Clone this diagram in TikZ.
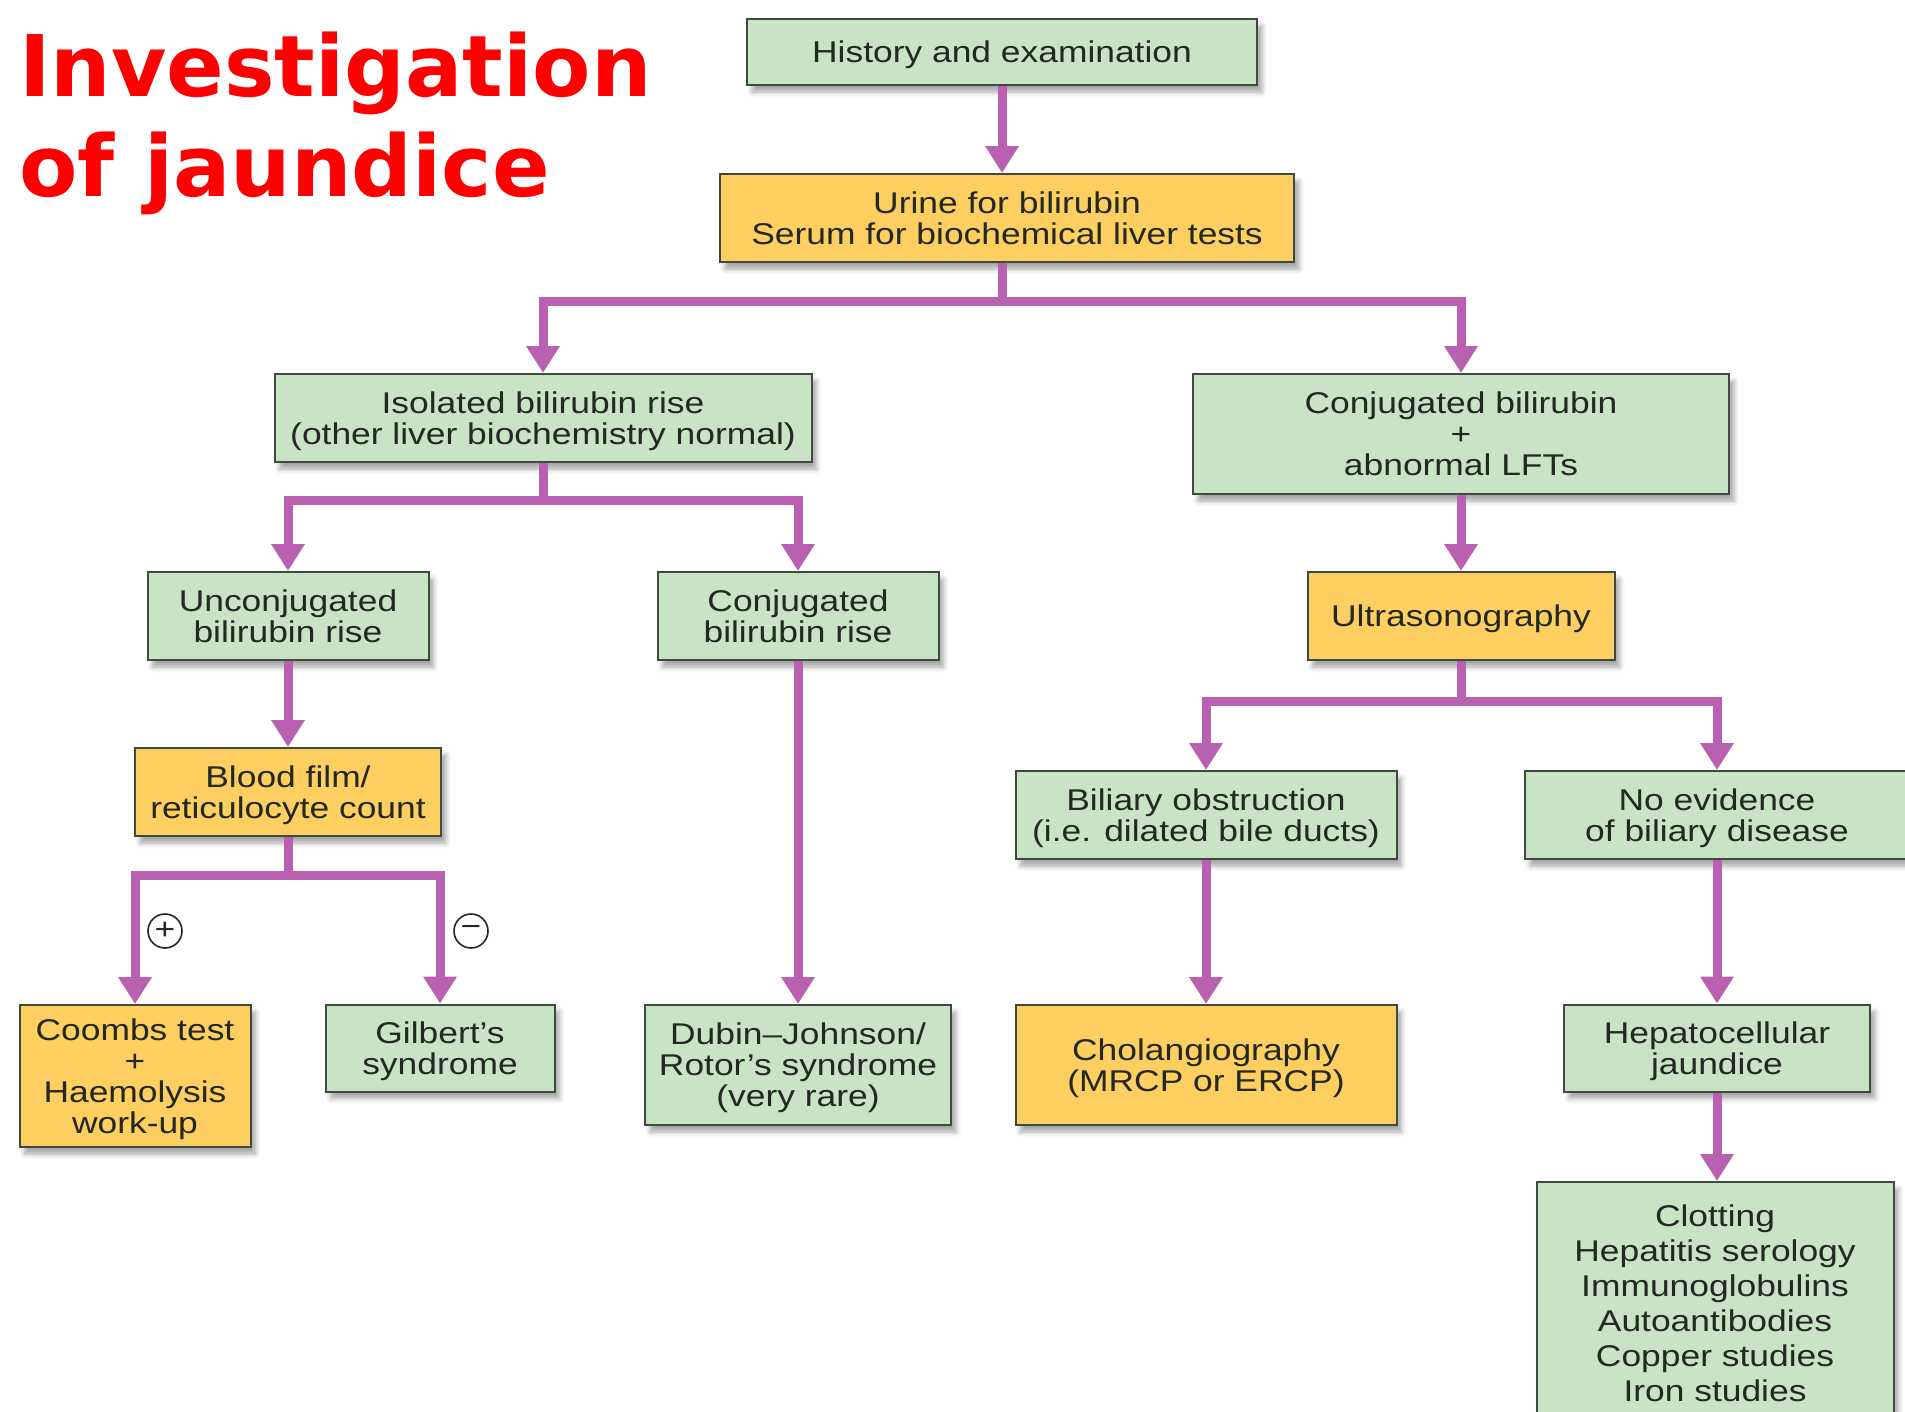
\documentclass[tikz,border=0pt]{standalone}
\usepackage{fontspec}
\setmainfont{Liberation Sans}[FakeStretch=1.18]
\newfontfamily\titlefont{DejaVu Sans}
\usetikzlibrary{arrows.meta,calc,shadows.blur}
\definecolor{jgreen}{RGB}{200,228,196}
\definecolor{jyellow}{RGB}{253,206,96}
\definecolor{jpurple}{RGB}{186,96,176}
\definecolor{jedge}{RGB}{62,74,62}
\definecolor{jtext}{RGB}{35,40,35}
\definecolor{jred}{RGB}{255,0,0}

\begin{document}
\begin{tikzpicture}[x=1pt, y=-1pt,
      box/.style={rectangle, draw=jedge, line width=2pt, inner sep=0pt, align=center, text=jtext, text depth=-2pt, font=\fontsize{30}{31}\selectfont, blur shadow={shadow xshift=5pt, shadow yshift=-7pt, shadow blur radius=5pt, shadow opacity=35}},
      finding/.style={box, fill=jgreen},
      test/.style={box, fill=jyellow},
      stem/.style={line width=9pt, color=jpurple},
      arr/.style={stem, -{Triangle[width=32pt, length=27pt]}},
      sign/.style={circle, draw=jtext, line width=1.6pt, minimum size=34pt, inner sep=0pt, text=jtext, font=\fontsize{30}{30}\selectfont},
      title/.style={inner sep=0pt, align=left, text=jred, font=\titlefont\bfseries\fontsize{85}{100}\selectfont}
    ]
      \useasboundingbox (0,0) rectangle (1905,1411);

      % Title
      \node[title, anchor=north west] (title) at (19,32) {Investigation\\of jaundice};

      % Top: history and first tests
      \node[finding, minimum width=510pt, minimum height=66pt] (hist) at (1002,52) {History and examination};
      \node[test, minimum width=574pt, minimum height=88pt] (urine) at (1007,218) {Urine for bilirubin\\Serum for biochemical liver tests};

      % Second row
      \node[finding, minimum width=537pt, minimum height=88pt] (iso) at (543,418) {Isolated bilirubin rise\\(other liver biochemistry normal)};
      \node[finding, minimum width=536pt, minimum height=120pt] (conjlft) at (1461,434) {Conjugated bilirubin\\+\\abnormal LFTs};

      % Third row
      \node[finding, minimum width=281pt, minimum height=88pt] (uncon) at (288,616) {Unconjugated\\bilirubin rise};
      \node[finding, minimum width=281pt, minimum height=88pt] (conjrise) at (798,616) {Conjugated\\bilirubin rise};
      \node[test, minimum width=307pt, minimum height=88pt] (ultra) at (1461,616) {Ultrasonography};

      % Fourth row
      \node[test, minimum width=306pt, minimum height=88pt] (blood) at (288,792) {Blood film/\\reticulocyte count};
      \node[finding, minimum width=381pt, minimum height=88pt] (biliary) at (1206,815) {Biliary obstruction\\(i.e. dilated bile ducts)};
      \node[finding, minimum width=384pt, minimum height=88pt] (noevid) at (1717,815) {No evidence\\of biliary disease};

      % Bottom row
      \node[test, minimum width=231pt, minimum height=142pt, text depth=-12pt] (coombs) at (135,1076) {Coombs test\\+\\Haemolysis\\work-up};
      \node[finding, minimum width=229pt, minimum height=87pt] (gilbert) at (440,1048) {Gilbert’s\\syndrome};
      \node[finding, minimum width=306pt, minimum height=120pt] (dubin) at (798,1065) {Dubin–Johnson/\\Rotor’s syndrome\\(very rare)};
      \node[test, minimum width=381pt, minimum height=120pt] (cholang) at (1206,1065) {Cholangiography\\(MRCP or ERCP)};
      \node[finding, minimum width=306pt, minimum height=87pt] (hepato) at (1717,1048) {Hepatocellular\\jaundice};
      \node[finding, minimum width=357pt, minimum height=242pt, anchor=north, font=\fontsize{30}{35}\selectfont] (tests) at (1715,1181) {Clotting\\Hepatitis serology\\Immunoglobulins\\Autoantibodies\\Copper studies\\Iron studies};

      % Split points
      \coordinate (split1) at (1002,301);
      \coordinate (split2) at (543,500);
      \coordinate (split3) at (288,875);
      \coordinate (split4) at (1461,701);

      % Paths
      \draw[arr] (hist.south) -- (hist.south |- urine.north);
      \draw[stem] (hist.south |- urine.south) -- (split1);
      \draw[arr] (split1) -| (iso.north);
      \draw[arr] (split1) -| (conjlft.north);

      \draw[stem] (iso.south) -- (split2);
      \draw[arr] (split2) -| (uncon.north);
      \draw[arr] (split2) -| (conjrise.north);
      \draw[arr] (uncon.south) -- (blood.north);
      \draw[stem] (blood.south) -- (split3);
      \draw[arr] (split3) -| (coombs.north);
      \draw[arr] (split3) -| (gilbert.north);
      \draw[arr] (conjrise.south) -- (dubin.north);

      \draw[arr] (conjlft.south) -- (ultra.north);
      \draw[stem] (ultra.south) -- (split4);
      \draw[arr] (split4) -| (biliary.north);
      \draw[arr] (split4) -| (noevid.north);
      \draw[arr] (biliary.south) -- (cholang.north);
      \draw[arr] (noevid.south) -- (hepato.north);
      \draw[arr] (hepato.south) -- (tests.north -| hepato.south);

      % Result signs
      \node[sign] (plus) at (165,931) {+};
      \node[sign] (minus) at (471,931) {−};
    \end{tikzpicture}
\end{document}
